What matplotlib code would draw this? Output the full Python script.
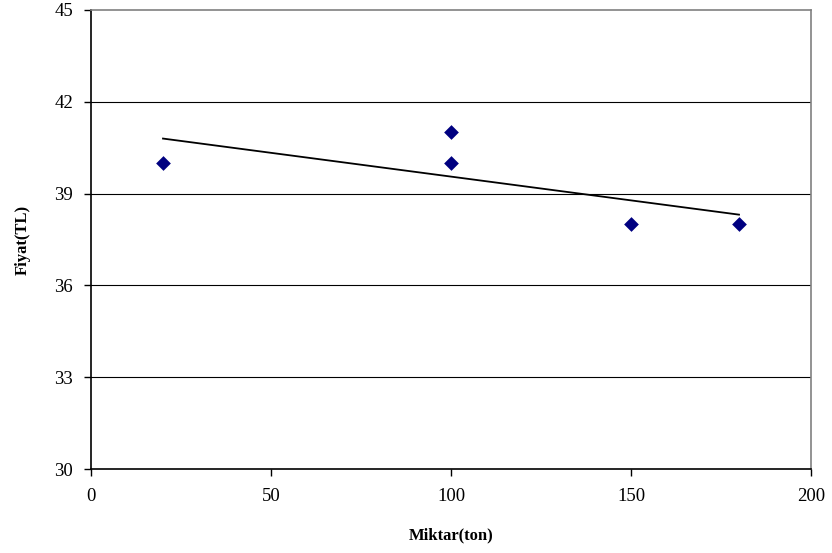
import matplotlib
matplotlib.use("Agg")
import matplotlib.pyplot as plt
import numpy as np

miktar = [20, 100, 100, 150, 180]
fiyat = [40, 41, 40, 38, 38]
x_ticks = [0, 50, 100, 150, 200]
y_ticks = [30, 33, 36, 39, 42, 45]

plt.rcParams['font.family'] = ['Liberation Serif', 'DejaVu Serif']

fig = plt.figure(figsize=(8.32, 5.53), dpi=100)
ax = fig.add_axes([91/832, 1-469/553, (811-91)/832, (469-10)/553])

for yv in y_ticks[1:-1]:
    ax.axhline(yv, color='black', lw=0.8, zorder=1)

ax.scatter(miktar, fiyat, marker='D', s=7.5**2, color='#000080', zorder=3, linewidths=0)

slope, intercept = np.polyfit(miktar, fiyat, 1)
xs = np.array([min(miktar), max(miktar)])
ax.plot(xs, slope*xs + intercept, color='black', lw=1.3, zorder=2)

ax.set_xlim(0, 200)
ax.set_ylim(30, 45)
ax.set_xticks(x_ticks)
ax.set_yticks(y_ticks)
ax.tick_params(direction='out', length=5, width=1, labelsize=13.5)
ax.tick_params(axis='y', pad=8)
ax.tick_params(axis='x', pad=9)
for s in ['left', 'bottom']:
    ax.spines[s].set_color('black')
    ax.spines[s].set_linewidth(1.2)
for s in ['top', 'right']:
    ax.spines[s].set_color('#808080')
    ax.spines[s].set_linewidth(1.2)

ax.set_xlabel('Miktar(ton)', fontsize=12, fontweight='bold', labelpad=16)
ax.set_ylabel('Fiyat(TL)', fontsize=12, fontweight='bold', labelpad=17)

fig.savefig('out.png', dpi=100)
